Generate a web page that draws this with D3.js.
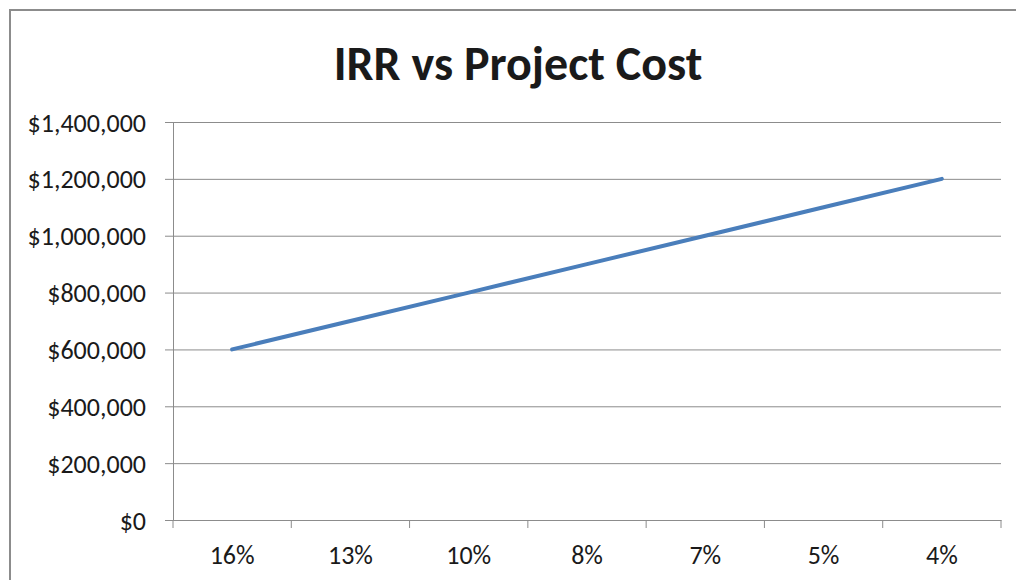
<!DOCTYPE html>
<html>
<head>
<meta charset="utf-8">
<script src="https://cdn.jsdelivr.net/npm/d3@7"></script>
<style>
  body { margin: 0; background: #fff; }
  svg text { font-family: Carlito, Calibri, Lato, sans-serif; fill: #1a1a1a; }
</style>
</head>
<body>
<svg id="chart" width="1016" height="580"></svg>
<script>
'use strict';

const irrLabels = ['16%', '13%', '10%', '8%', '7%', '5%', '4%'];
const projectCost = [600000, 700000, 800000, 900000, 1000000, 1100000, 1200000];
const yTicks = [0, 200000, 400000, 600000, 800000, 1000000, 1200000, 1400000];

const svg = d3.select('#chart');
const plot = { left: 173, right: 1001, top: 122, bottom: 520 };

// chart frame (right/bottom edges run off the picture)
svg.append('rect')
  .attr('x', 10).attr('y', 10)
  .attr('width', 1020).attr('height', 600)
  .attr('fill', '#fff')
  .attr('stroke', '#8c8c8c')
  .attr('stroke-width', 2);

svg.append('text')
  .attr('x', 518).attr('y', 80)
  .attr('text-anchor', 'middle')
  .style('font-size', '48px')
  .style('font-weight', 'bold')
  .text('IRR vs Project Cost');

const x = d3.scaleBand().domain(irrLabels).range([plot.left, plot.right]);
const y = d3.scaleLinear().domain([0, 1400000]).range([plot.bottom, plot.top]);

// gridlines + left ticks
const yAxis = svg.append('g')
  .attr('transform', `translate(${plot.left},0)`)
  .call(d3.axisLeft(y)
    .tickValues(yTicks)
    .tickSize(8)
    .tickPadding(19)
    .tickFormat(d => '$' + d3.format(',')(d)));
yAxis.select('.domain').attr('stroke', '#8c8c8c');
yAxis.selectAll('.tick line').attr('stroke', '#8c8c8c');
yAxis.selectAll('.tick').append('line')
  .attr('x1', 0).attr('x2', plot.right - plot.left)
  .attr('stroke', '#8c8c8c');
yAxis.selectAll('.tick text')
  .style('font-size', '26px')
  .attr('dy', '0.35em');

// category axis
const xAxis = svg.append('g')
  .attr('transform', `translate(0,${plot.bottom})`)
  .call(d3.axisBottom(x).tickSize(0).tickPadding(26));
xAxis.select('.domain').attr('stroke', '#8c8c8c');
xAxis.selectAll('.tick text').style('font-size', '26px');
xAxis.selectAll('.bound')
  .data(d3.range(irrLabels.length + 1))
  .join('line')
  .attr('x1', i => plot.left + i * x.step())
  .attr('x2', i => plot.left + i * x.step())
  .attr('y1', 0).attr('y2', 8)
  .attr('stroke', '#8c8c8c');

const line = d3.line()
  .x((d, i) => x(irrLabels[i]) + x.bandwidth() / 2)
  .y(d => y(d));

svg.append('path')
  .datum(projectCost)
  .attr('fill', 'none')
  .attr('stroke', '#4a7ebb')
  .attr('stroke-width', 4)
  .attr('stroke-linecap', 'round')
  .attr('d', line);
</script>
</body>
</html>
